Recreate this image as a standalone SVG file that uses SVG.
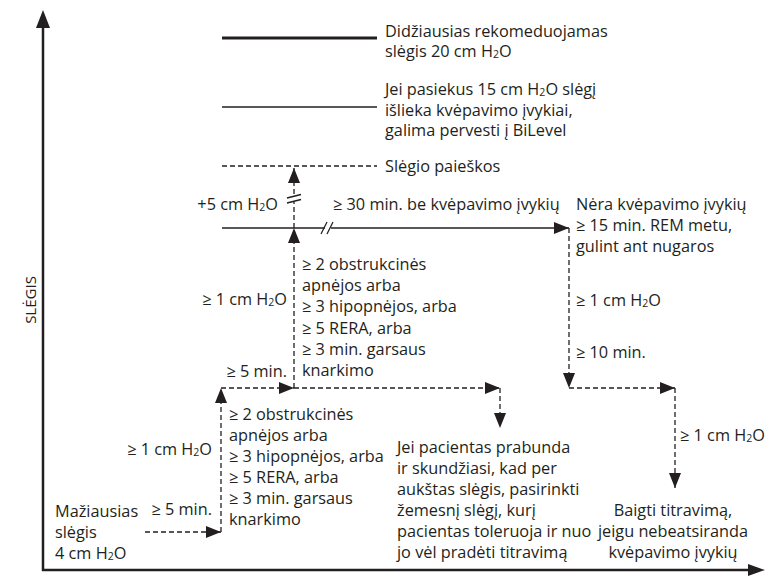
<svg xmlns="http://www.w3.org/2000/svg" width="766" height="576" viewBox="0 0 766 576">
<style>
text{font-family:"Open Sans","Noto Sans","Liberation Sans",sans-serif;font-size:16.3px;fill:#231f20}
.sub{font-size:10.5px}
.ax{stroke:#231f20;stroke-width:2.5;fill:none}
.d{stroke:#231f20;stroke-width:1.3;stroke-dasharray:5 3;fill:none}
.s{stroke:#231f20;stroke-width:1.3;fill:none}
.end{text-anchor:end}
.mid{text-anchor:middle}
</style>
<defs>
<marker id="ah" markerUnits="userSpaceOnUse" markerWidth="15" markerHeight="12" viewBox="0 0 15 12" refX="15" refY="6" orient="auto">
<path d="M0,0 L15,6 L0,12 Z" fill="#231f20"/>
</marker>
</defs>
<rect width="766" height="576" fill="#fff"/>
<g id="axes">
<line class="ax" x1="43" y1="571" x2="43" y2="27"/>
<polygon points="36,28 43,10 50,28" fill="#231f20"/>
<line class="ax" x1="42" y1="570" x2="749" y2="570"/>
<polygon points="748,564 765,570 748,576" fill="#231f20"/>
<text id="ylabel" transform="translate(36,300) rotate(-90)" class="mid" style="font-size:15px">SLĖGIS</text>
</g>
<g id="levels">
<line x1="222" y1="38" x2="377" y2="38" stroke="#231f20" stroke-width="3"/>
<line x1="222" y1="107" x2="377" y2="107" stroke="#231f20" stroke-width="1.5"/>
<line class="d" x1="222" y1="166" x2="377" y2="166"/>
</g>
<g id="connectors">
<line class="d" x1="145" y1="532" x2="221" y2="532" marker-end="url(#ah)"/>
<line class="d" x1="221" y1="532" x2="221" y2="388" marker-end="url(#ah)"/>
<line class="d" x1="221" y1="388" x2="294" y2="388" marker-end="url(#ah)"/>
<line class="d" x1="294" y1="388" x2="500" y2="388" marker-end="url(#ah)"/>
<line class="d" x1="500" y1="388" x2="500" y2="428" marker-end="url(#ah)"/>
<line class="d" x1="294" y1="388" x2="294" y2="228" marker-end="url(#ah)"/>
<line class="d" x1="294" y1="228" x2="294" y2="202"/>
<line class="d" x1="294" y1="194" x2="294" y2="168" marker-end="url(#ah)"/>
<line class="s" x1="287" y1="198" x2="301" y2="194.5"/>
<line class="s" x1="287" y1="203" x2="301" y2="199.5"/>
<line class="s" x1="222" y1="228" x2="325" y2="228"/>
<line class="s" x1="331" y1="228" x2="569" y2="228" marker-end="url(#ah)"/>
<line class="s" x1="321" y1="234" x2="327" y2="222"/>
<line class="s" x1="327" y1="234" x2="333" y2="222"/>
<line class="d" x1="569" y1="228" x2="569" y2="388" marker-end="url(#ah)"/>
<line class="d" x1="569" y1="388" x2="675" y2="388" marker-end="url(#ah)"/>
<line class="d" x1="675" y1="388" x2="675" y2="488" marker-end="url(#ah)"/>
</g>
<g id="n-max">
<text x="385" y="36.5">Didžiausias rekomeduojamas</text>
<text x="385" y="56.5">slėgis 20 cm H<tspan class="sub" dy="1">2</tspan><tspan dy="-1">O</tspan></text>
</g>
<g id="n-bilevel">
<text x="385" y="95">Jei pasiekus 15 cm H<tspan class="sub" dy="1">2</tspan><tspan dy="-1">O slėgį</tspan></text>
<text x="385" y="115.5">išlieka kvėpavimo įvykiai,</text>
<text x="385" y="136">galima pervesti į BiLevel</text>
</g>
<g id="n-search">
<text x="385" y="172">Slėgio paieškos</text>
</g>
<g id="n-plus5">
<text x="278" y="210" class="end">+5 cm H<tspan class="sub" dy="1">2</tspan><tspan dy="-1">O</tspan></text>
</g>
<g id="n-30min">
<text x="333" y="210">≥ 30 min. be kvėpavimo įvykių</text>
</g>
<g id="n-noevents">
<text x="576" y="210">Nėra kvėpavimo įvykių</text>
<text x="576" y="231">≥ 15 min. REM metu,</text>
<text x="576" y="252">gulint ant nugaros</text>
</g>
<g id="n-r1cm">
<text x="576" y="306">≥ 1 cm H<tspan class="sub" dy="1">2</tspan><tspan dy="-1">O</tspan></text>
</g>
<g id="n-10min">
<text x="576" y="358">≥ 10 min.</text>
</g>
<g id="n-r1cm2">
<text x="680" y="441">≥ 1 cm H<tspan class="sub" dy="1">2</tspan><tspan dy="-1">O</tspan></text>
</g>
<g id="n-end">
<text x="673" y="516" class="mid">Baigti titravimą,</text>
<text x="673" y="537" class="mid">jeigu nebeatsiranda</text>
<text x="673" y="558" class="mid">kvėpavimo įvykių</text>
</g>
<g id="n-upper-1cm">
<text x="287" y="305" class="end">≥ 1 cm H<tspan class="sub" dy="1">2</tspan><tspan dy="-1">O</tspan></text>
</g>
<g id="n-upper-crit">
<text x="302" y="270">≥ 2 obstrukcinės</text>
<text x="302" y="291">apnėjos arba</text>
<text x="302" y="312">≥ 3 hipopnėjos, arba</text>
<text x="302" y="333.5">≥ 5 RERA, arba</text>
<text x="302" y="355">≥ 3 min. garsaus</text>
<text x="302" y="376">knarkimo</text>
</g>
<g id="n-upper-5min">
<text x="287" y="377" class="end">≥ 5 min.</text>
</g>
<g id="n-lower-crit">
<text x="229" y="420">≥ 2 obstrukcinės</text>
<text x="229" y="441">apnėjos arba</text>
<text x="229" y="462">≥ 3 hipopnėjos, arba</text>
<text x="229" y="483">≥ 5 RERA, arba</text>
<text x="229" y="504">≥ 3 min. garsaus</text>
<text x="229" y="525">knarkimo</text>
</g>
<g id="n-lower-1cm">
<text x="212" y="455" class="end">≥ 1 cm H<tspan class="sub" dy="1">2</tspan><tspan dy="-1">O</tspan></text>
</g>
<g id="n-lower-5min">
<text x="212" y="515" class="end">≥ 5 min.</text>
</g>
<g id="n-min">
<text x="55" y="517">Mažiausias</text>
<text x="55" y="538">slėgis</text>
<text x="55" y="559">4 cm H<tspan class="sub" dy="1">2</tspan><tspan dy="-1">O</tspan></text>
</g>
<g id="n-wake">
<text x="397" y="453">Jei pacientas prabunda</text>
<text x="397" y="474">ir skundžiasi, kad per</text>
<text x="397" y="495">aukštas slėgis, pasirinkti</text>
<text x="397" y="516">žemesnį slėgį, kurį</text>
<text x="397" y="537">pacientas toleruoja ir nuo</text>
<text x="397" y="558">jo vėl pradėti titravimą</text>
</g>
</svg>
